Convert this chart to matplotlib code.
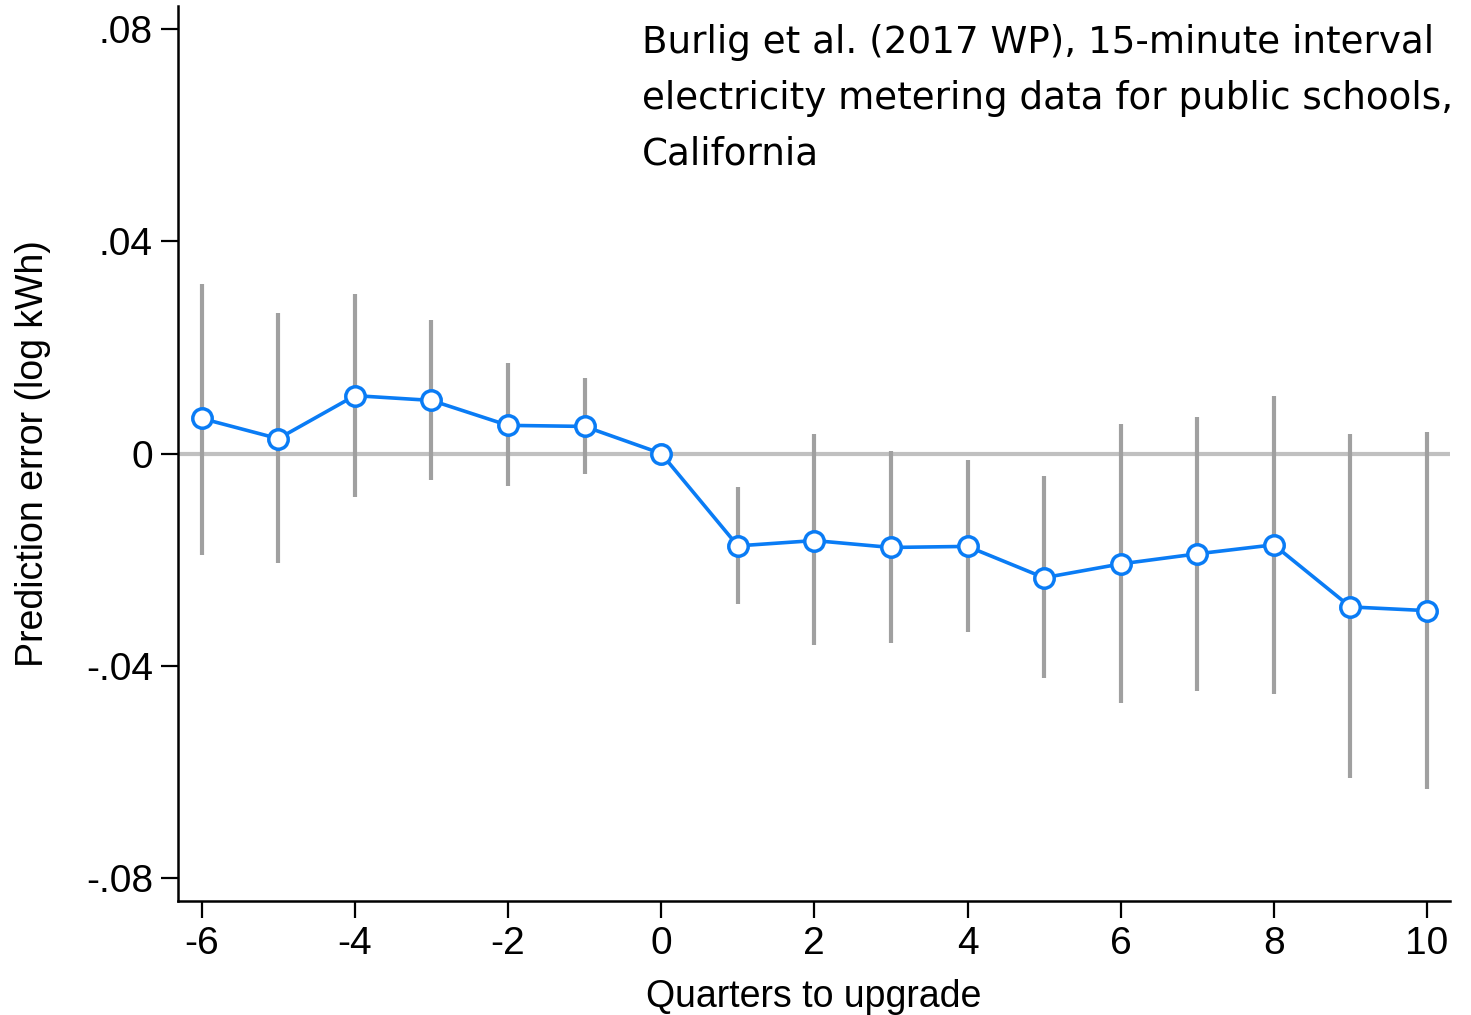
import matplotlib.pyplot as plt

quarters = [-6, -5, -4, -3, -2, -1, 0, 1, 2, 3, 4, 5, 6, 7, 8, 9, 10]
estimate = [0.0066, 0.0028, 0.0109, 0.0100, 0.0053, 0.0051, 0.0,
            -0.0174, -0.0164, -0.0177, -0.0175, -0.0234, -0.0208,
            -0.0189, -0.0172, -0.0289, -0.0296]
ci_high = [0.0319, 0.0264, 0.0300, 0.0251, 0.0170, 0.0142, 0.0,
           -0.0064, 0.0036, 0.0004, -0.0013, -0.0042, 0.0055,
           0.0068, 0.0108, 0.0036, 0.0040]
ci_low = [-0.0191, -0.0206, -0.0081, -0.0049, -0.0062, -0.0038, 0.0,
          -0.0283, -0.0360, -0.0357, -0.0336, -0.0423, -0.0470,
          -0.0447, -0.0453, -0.0611, -0.0632]

yticks = [-0.08, -0.04, 0, 0.04, 0.08]
ytick_labels = ['-.08', '-.04', '0', '.04', '.08']
xticks = [-6, -4, -2, 0, 2, 4, 6, 8, 10]

plt.rcParams['font.family'] = ['Liberation Sans', 'DejaVu Sans']
plt.rcParams['axes.unicode_minus'] = False

fig = plt.figure(figsize=(14.71, 10.15), dpi=100)
ax = fig.add_axes([0.121, 0.1123, 0.8647, 0.8818])

ax.axhline(0, color='#c0c0c0', lw=3, zorder=1)
ax.vlines(quarters, ci_low, ci_high, color='#a0a0a0', lw=3, zorder=2)
ax.plot(quarters, estimate, color='#0a7cf5', lw=2.6, marker='o', ms=14,
        mfc='white', mec='#0a7cf5', mew=2.5, zorder=3)

ax.set_xlim(-6.31, 10.3)
ax.set_ylim(-0.0843, 0.0843)
ax.set_yticks(yticks)
ax.set_yticklabels(ytick_labels)
ax.set_xticks(xticks)
ax.tick_params(labelsize=28, length=12, width=1.6, pad=6)

for s in ['top', 'right']:
    ax.spines[s].set_visible(False)
for s in ['left', 'bottom']:
    ax.spines[s].set_linewidth(1.8)

ax.set_ylabel('Prediction error (log kWh)', fontsize=27)
ax.yaxis.set_label_coords(-0.100, 0.5)
ax.set_xlabel('Quarters to upgrade', fontsize=27, labelpad=12)

fig.text(642 / 1471, 1 - 24 / 1015,
         'Burlig et al. (2017 WP), 15-minute interval\n'
         'electricity metering data for public schools,\n'
         'California',
         fontsize=26.8, family=['DejaVu Sans'], ha='left', va='top',
         linespacing=1.65)

fig.savefig('out.png', dpi=100)
